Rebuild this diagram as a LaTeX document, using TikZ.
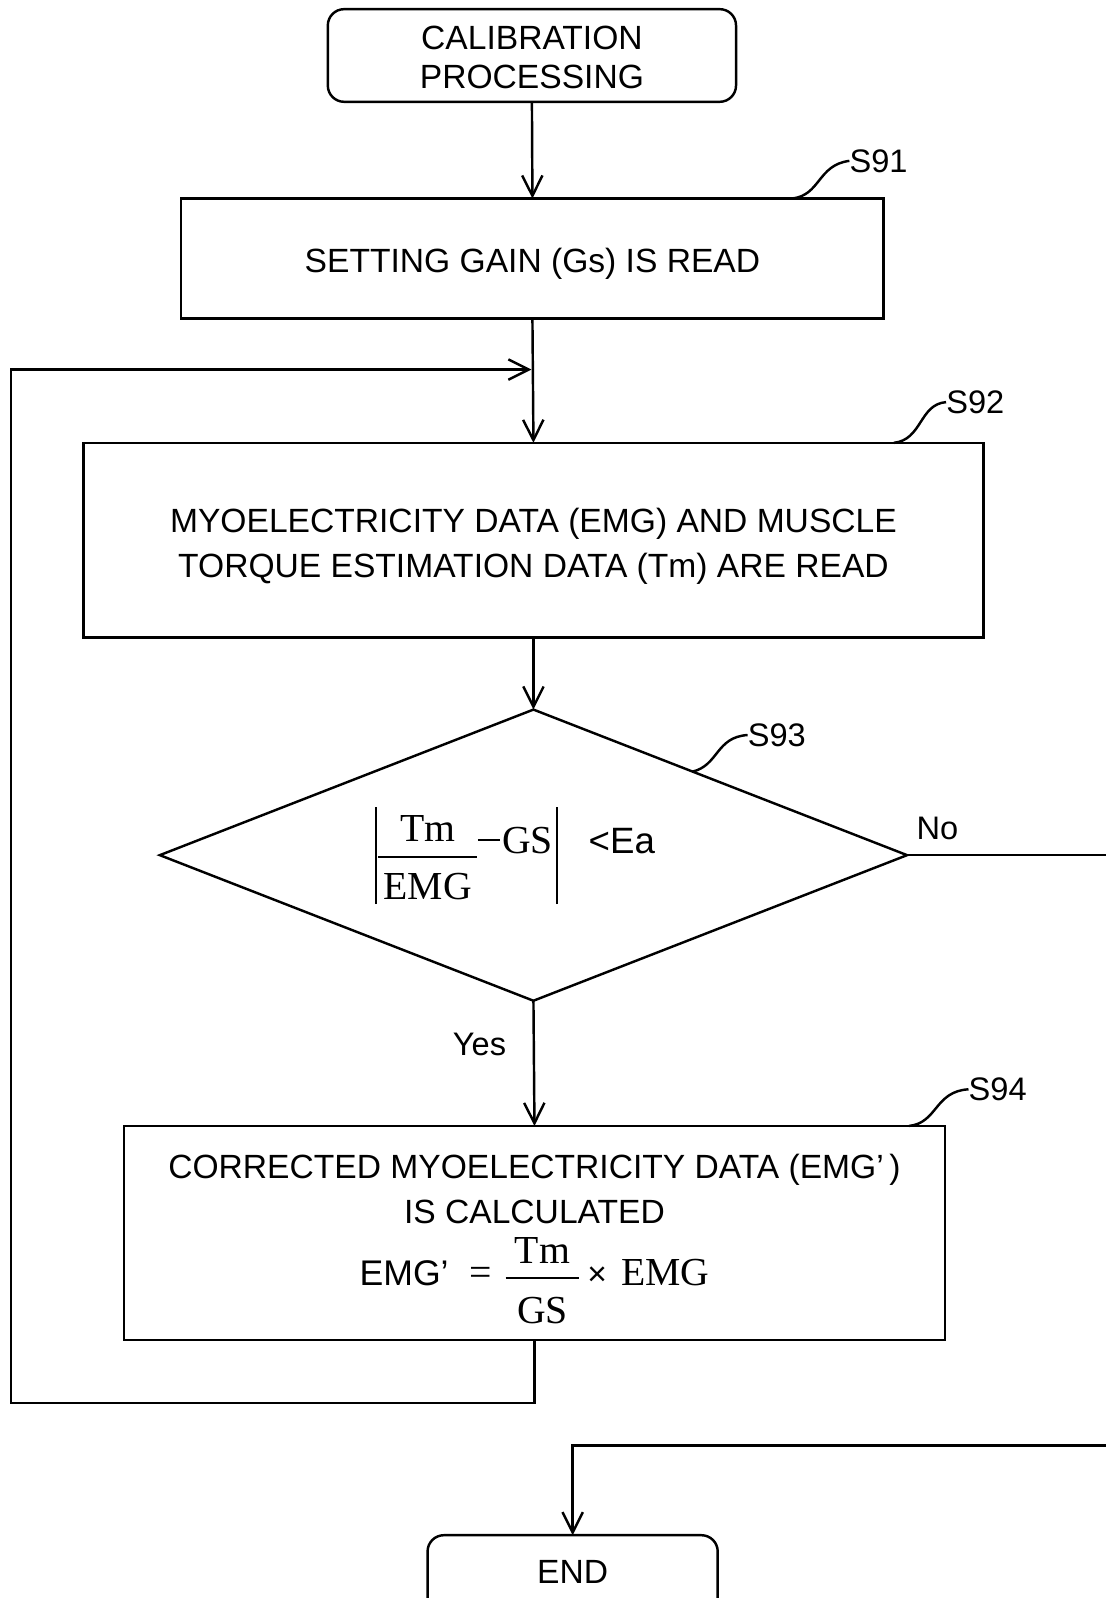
\documentclass[tikz,border=0pt]{standalone}
\usepackage{fontspec}
\setmainfont{Liberation Sans}
\newfontfamily\serifm{Liberation Serif}
\usetikzlibrary{shapes.geometric,arrows.meta}
% stacked fraction: #1 numerator, #2 denominator, #3 kern above rule, #4 kern below rule, #5 lowering of the box
\newcommand{\stackfrac}[5]{\raisebox{-#5}{\vbox{\halign{\hfil\kern5pt##\kern5pt\hfil\cr
  #1\cr\noalign{\kern#3\hrule height 2pt\kern#4}#2\cr}}}}
\newcommand{\tstrut}[1]{\rule{0pt}{#1}}
\tikzset{
  ln/.style={line width=2.4pt},
  arr/.style={ln,-{Straight Barb[length=20pt,width=20pt,line width=2.4pt]}},
  txt/.style={font=\fontsize{33}{44}\selectfont},
  term/.style={draw,ln,rounded corners=16pt,align=center,inner sep=0pt,outer sep=0pt,txt},
  proc/.style={draw,ln,align=center,inner sep=0pt,outer sep=0pt,txt},
  decis/.style={draw,ln,diamond,inner sep=0pt,outer sep=0pt},
  steplab/.style={font=\fontsize{32}{36}\selectfont,inner sep=0pt},
  yn/.style={font=\fontsize{32}{36}\selectfont,inner sep=0pt},
}
\begin{document}
\begin{tikzpicture}[x=1pt,y=-1pt]
\useasboundingbox (0,0) rectangle (1085.5,1569.7);
% nodes
\node[term,minimum width=401pt,minimum height=91pt,font=\fontsize{33}{39}\selectfont] (start) at (522.5,54.5) {\tstrut{27pt}CALIBRATION\\PROCESSING};
\node[proc,minimum width=690pt,minimum height=118pt] (s91) at (523,254) {\tstrut{35pt}SETTING GAIN (Gs) IS READ};
\node[proc,minimum width=884pt,minimum height=191pt] (s92) at (524,530.5) {\tstrut{36pt}MYOELECTRICITY DATA (EMG) AND MUSCLE\\TORQUE ESTIMATION DATA (Tm) ARE READ};
\node[decis,minimum width=734pt,minimum height=286pt] (dec) at (524,840) {};
\node[inner sep=0pt,font=\fontsize{39}{44}\selectfont\serifm] (f93) at (506,840.5)
  {\vrule width 2pt height 45pt depth 50pt\kern1pt\stackfrac{Tm}{EMG}{14.5pt}{15pt}{46pt}\kern1pt\raisebox{12pt}{\rule{22pt}{2pt}}\kern2pt GS\kern3pt\vrule width 2pt height 45pt depth 50pt\kern30pt{\fontsize{36}{40}\selectfont\rmfamily<Ea}};
\node[proc,minimum width=806pt,minimum height=210pt] (s94) at (525,1211)
  {\tstrut{36pt}CORRECTED MYOELECTRICITY DATA (EMG’\,)\\IS CALCULATED\\[13pt]
   {\fontsize{35}{44}\selectfont EMG’}\kern20pt{\fontsize{39}{44}\selectfont\serifm =\kern14pt\stackfrac{\kern4pt Tm\kern4pt}{GS}{13pt}{18pt}{37.5pt}}\kern8pt{\fontsize{33}{36}\selectfont ×}\kern14pt{\fontsize{39}{44}\selectfont\serifm EMG}};
\node[term,minimum width=285pt,minimum height=90pt,text height=24pt,text depth=20pt] (end) at (562.5,1553) {END};
% step labels
\node[steplab] (l91) at (863,158) {S91};
\node[steplab] (l92) at (958,395) {S92};
\node[steplab] (l93) at (763,722) {S93};
\node[steplab] (l94) at (980,1070) {S94};
\coordinate (c91) at (778,195);
\coordinate (c92) at (878,435);
\coordinate (c93) at (680,758);
\coordinate (c94) at (893,1106);
\draw[ln] (c91) .. controls (806,192) and (803,162) .. (l91.west);
\draw[ln] (c92) .. controls (906,432) and (903,397) .. (l92.west);
\draw[ln] (c93) .. controls (706,752) and (703,724) .. (l93.west);
\draw[ln] (c94) .. controls (921,1103) and (918,1072) .. (l94.west);
% connectors
\draw[arr] (start.south) -- (s91.north);
\draw[arr] (s91.south) -- (s92.north);
\draw[arr] (s92.south) -- (dec.north);
\draw[arr] (dec.south) -- node[yn,pos=0.35,left=26pt] {Yes} (s94.north);
\coordinate (noR) at (1090,840);
\draw[ln] (dec.east) -- node[yn,pos=0.15,above=14pt] {No} (noR);
\coordinate (lpA) at (525,1378);
\coordinate (lpB) at (11,1378);
\coordinate (lpC) at (11,363);
\coordinate (lpD) at (522,363);
\draw[arr] (s94.south) -- (lpA) -- (lpB) -- (lpC) -- (lpD);
\coordinate (retR) at (1090,1420);
\draw[arr] (retR) -| (end.north);
\end{tikzpicture}
\end{document}
